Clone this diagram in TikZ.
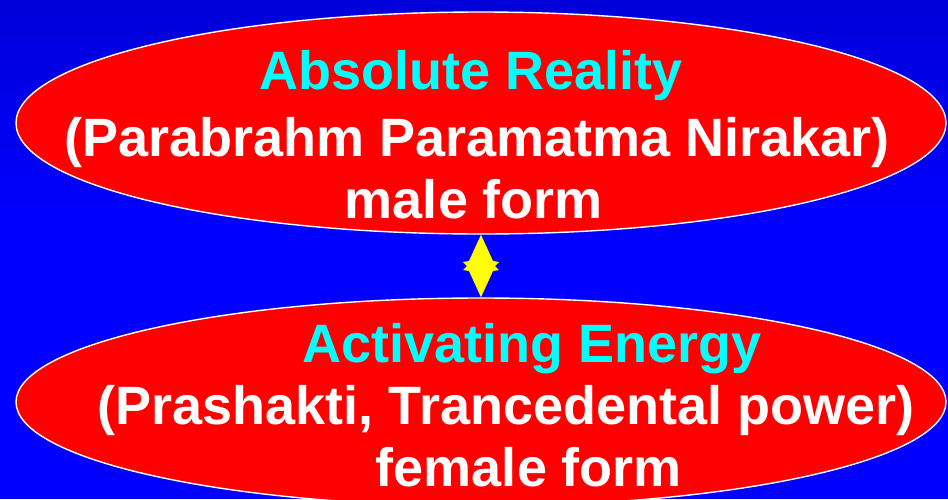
\documentclass[tikz,border=0pt]{standalone}
\usepackage{fontspec}
\setmainfont{Liberation Sans}
\usetikzlibrary{shapes.geometric,calc}
\definecolor{bgtop}{RGB}{0,0,218}
\definecolor{bgbot}{RGB}{0,0,255}
\definecolor{headcyan}{RGB}{0,255,255}
\definecolor{ovalred}{RGB}{255,0,0}
\definecolor{arrowyellow}{RGB}{255,255,0}
\begin{document}
\begin{tikzpicture}[x=1pt,y=-1pt,
  oval/.style={ellipse, fill=ovalred, draw=white, line width=1.4pt, minimum width=930pt, inner sep=0pt},
  txt/.style={anchor=base, inner sep=0pt, font=\fontsize{54}{54}\selectfont\bfseries},
  head/.style={txt, text=headcyan},
  body/.style={txt, text=white}]
\fill[bgbot] (0,0) rectangle (948,499);
\shade[top color=bgtop, bottom color=bgbot] (0,0) rectangle (948,230);
\useasboundingbox (0,0) rectangle (948,499);
\node[oval, minimum height=222pt] (top) at (481,123) {};
\node[oval, minimum height=208pt] (bottom) at (481,402) {};
\node[head] (t1) at (471,89) {Absolute Reality};
\node[body] (t2) at (477,156) {(Parabrahm Paramatma Nirakar)};
\node[body] (t3) at (474,218) {male form};
\node[head] (b1) at (532,362) {Activating Energy};
\node[body] (b2) at (506,424) {(Prashakti, Trancedental power)};
\node[body] (b3) at (529,486) {female form};
\coordinate (m) at ($(top.south)!0.5!(bottom.north)$);
\fill[arrowyellow] (top.south) -- ($(m)+(-12,-5)$) -- ($(m)+(-18,-4)$) -- ($(m)+(-14,0)$) -- ($(m)+(-18,4)$) -- ($(m)+(-12,5)$) -- (bottom.north)
  -- ($(m)+(12,5)$) -- ($(m)+(18,4)$) -- ($(m)+(14,0)$) -- ($(m)+(18,-4)$) -- ($(m)+(12,-5)$) -- cycle;
\end{tikzpicture}
\end{document}
